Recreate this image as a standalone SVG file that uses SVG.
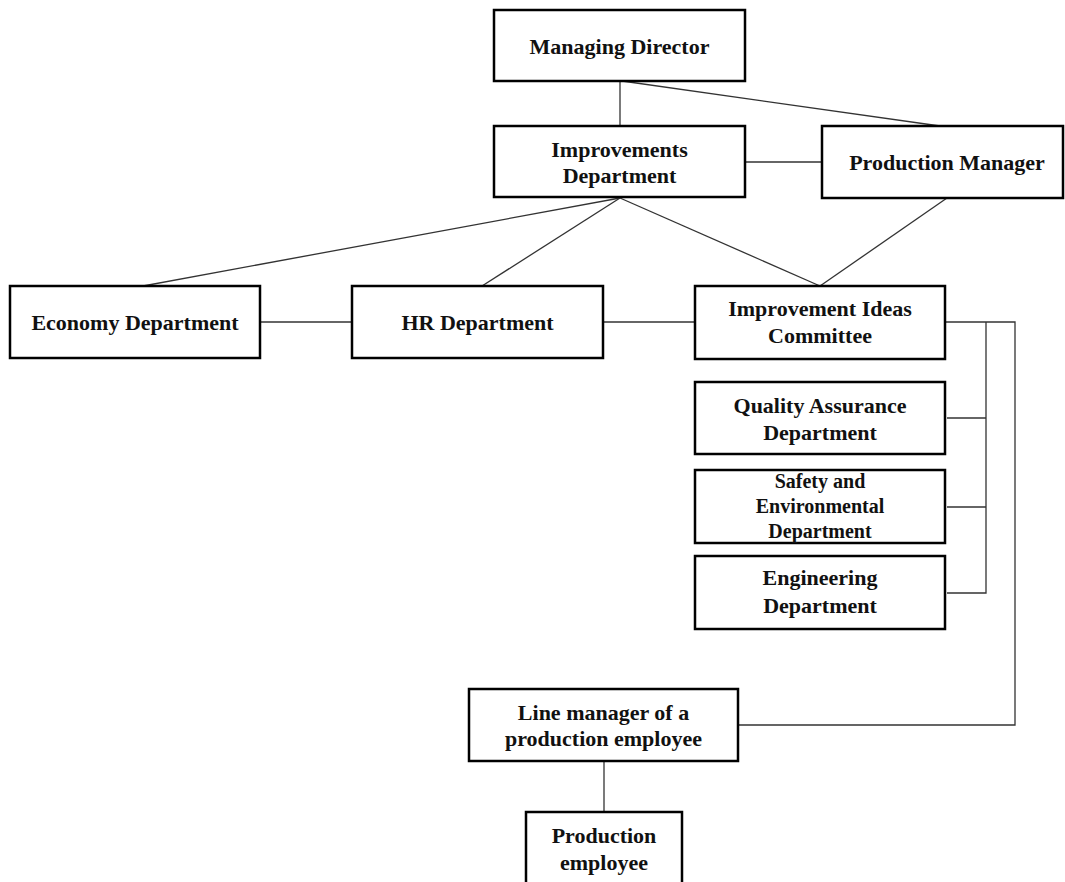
<svg xmlns="http://www.w3.org/2000/svg" width="1065" height="882" viewBox="0 0 1065 882">
<style>
.box{fill:#fff;stroke:#000;stroke-width:2.5}
.t{font-family:"Liberation Serif","Times New Roman",serif;font-weight:bold;font-size:22px;text-anchor:middle;fill:#111}
.s{font-size:20px}
.c{stroke:#333;stroke-width:1.3;fill:none}
</style>
<rect width="1065" height="882" fill="#fff"/>
<g id="connectors">
<line class="c" x1="620" y1="81" x2="620" y2="126"/>
<line class="c" x1="622" y1="81" x2="940" y2="126"/>
<line class="c" x1="745" y1="162" x2="822" y2="162"/>
<line class="c" x1="620" y1="198" x2="143" y2="286"/>
<line class="c" x1="620" y1="198" x2="482" y2="286"/>
<line class="c" x1="620" y1="198" x2="820" y2="286"/>
<line class="c" x1="947" y1="198" x2="820" y2="286"/>
<line class="c" x1="260" y1="322" x2="352" y2="322"/>
<line class="c" x1="603" y1="322" x2="695" y2="322"/>
<polyline class="c" points="945,322 1015,322 1015,725 738,725"/>
<polyline class="c" points="986,322 986,593 947,593"/>
<line class="c" x1="947" y1="418" x2="986" y2="418"/>
<line class="c" x1="947" y1="507" x2="986" y2="507"/>
<line class="c" x1="604" y1="761" x2="604" y2="812"/>
</g>
<g id="managing-director">
<rect class="box" x="494" y="10" width="251" height="71"/>
<text class="t" x="619.5" y="54">Managing Director</text>
</g>
<g id="improvements-department">
<rect class="box" x="494" y="126" width="251" height="71"/>
<text class="t" x="619.5" y="157">Improvements</text>
<text class="t" x="619.5" y="183">Department</text>
</g>
<g id="production-manager">
<rect class="box" x="822" y="126" width="241" height="72"/>
<text class="t" x="947" y="170">Production Manager</text>
</g>
<g id="economy-department">
<rect class="box" x="10" y="286" width="250" height="72"/>
<text class="t" x="135" y="330">Economy Department</text>
</g>
<g id="hr-department">
<rect class="box" x="352" y="286" width="251" height="72"/>
<text class="t" x="477.5" y="330">HR Department</text>
</g>
<g id="improvement-ideas-committee">
<rect class="box" x="695" y="286" width="250" height="73"/>
<text class="t" x="820" y="316">Improvement Ideas</text>
<text class="t" x="820" y="343">Committee</text>
</g>
<g id="quality-assurance-department">
<rect class="box" x="695" y="382" width="250" height="72"/>
<text class="t" x="820" y="413">Quality Assurance</text>
<text class="t" x="820" y="440">Department</text>
</g>
<g id="safety-environmental-department">
<rect class="box" x="695" y="470" width="250" height="73"/>
<text class="t s" x="820" y="488">Safety and</text>
<text class="t s" x="820" y="513">Environmental</text>
<text class="t s" x="820" y="538">Department</text>
</g>
<g id="engineering-department">
<rect class="box" x="695" y="556" width="250" height="73"/>
<text class="t" x="820" y="585">Engineering</text>
<text class="t" x="820" y="613">Department</text>
</g>
<g id="line-manager">
<rect class="box" x="469" y="689" width="269" height="72"/>
<text class="t" x="603.5" y="720">Line manager of a</text>
<text class="t" x="603.5" y="746">production employee</text>
</g>
<g id="production-employee">
<rect class="box" x="526" y="812" width="156" height="80"/>
<text class="t" x="604" y="843">Production</text>
<text class="t" x="604" y="870">employee</text>
</g>
</svg>
